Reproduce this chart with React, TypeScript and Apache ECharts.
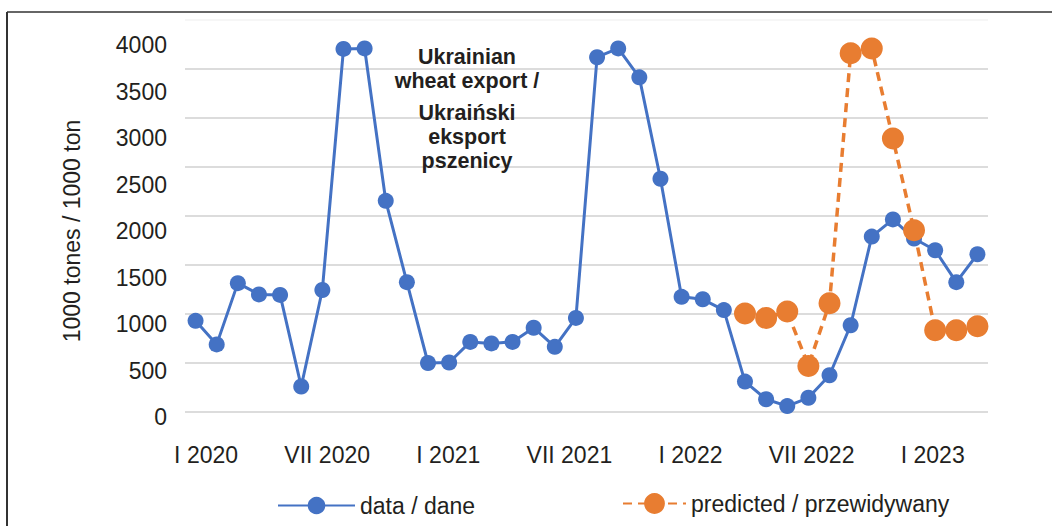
import React, { useEffect, useRef } from "react";
import * as echarts from "echarts";

const romanMonths = ["I", "II", "III", "IV", "V", "VI", "VII", "VIII", "IX", "X", "XI", "XII"];
const years = [2020, 2021, 2022, 2023];
const monthCount = 38;
const categories: string[] = [];
for (const y of years) {
  for (const m of romanMonths) {
    if (categories.length < monthCount) categories.push(`${m} ${y}`);
  }
}

const dataValues = [
  930, 690, 1315, 1200, 1195, 260, 1245, 3705, 3710, 2155, 1325, 500,
  505, 715, 700, 715, 860, 665, 960, 3620, 3710, 3415, 2380, 1175,
  1150, 1040, 310, 130, 60, 145, 375, 885, 1790, 1965, 1770, 1650,
  1325, 1610,
];

const predictedValues: (number | null)[] = [
  null, null, null, null, null, null, null, null, null, null, null, null,
  null, null, null, null, null, null, null, null, null, null, null, null,
  null, null, 1005, 960, 1025, 470, 1110, 3660, 3710, 2790, 1855, 835,
  835, 875,
];

const seriesNames = ["data / dane", "predicted / przewidywany"];
const yAxisName = "1000 tones / 1000 ton";
const titleEn = "Ukrainian\nwheat export /";
const titlePl = "Ukraiński\neksport\npszenicy";

const FONT = "'Liberation Sans', Arial, Helvetica, sans-serif";
const TEXT = "#231f20";
const BLUE = "#4472C4";
const ORANGE = "#E87D31";
const GRID = "#dcdcdc";

export default function App() {
  const ref = useRef<HTMLDivElement>(null);
  useEffect(() => {
    if (!ref.current) return;
    const chart = echarts.init(ref.current, undefined, { renderer: "svg" });
    chart.setOption({
      animation: false,
      backgroundColor: "#ffffff",
      textStyle: { fontFamily: FONT },
      grid: [
        { left: 185, right: 64, top: 20, bottom: 114 },
        { left: 196, right: 89, top: 45, bottom: 109 },
      ],
      xAxis: [
        {
          gridIndex: 0,
          type: "category",
          data: categories,
          boundaryGap: true,
          axisLine: { show: false },
          axisTick: { show: false },
          axisLabel: { show: false },
          splitLine: { show: false },
        },
        {
          gridIndex: 1,
          type: "category",
          data: categories,
          boundaryGap: true,
          axisLine: { show: false },
          axisTick: { show: false },
          axisLabel: {
            interval: 5,
            fontSize: 23,
            color: TEXT,
            margin: 26,
            fontFamily: FONT,
          },
          splitLine: { show: false },
        },
      ],
      yAxis: [
        {
          gridIndex: 0,
          type: "value",
          min: 0,
          max: 4000,
          interval: 500,
          axisLine: { show: false },
          axisTick: { show: false },
          axisLabel: { show: false },
          splitLine: {
            show: true,
            lineStyle: {
              color: [GRID, GRID, GRID, GRID, GRID, GRID, GRID, GRID, "#f6f6f6"],
              width: 2,
            },
          },
        },
        {
          gridIndex: 1,
          type: "value",
          min: 0,
          max: 4000,
          interval: 500,
          axisLine: { show: false },
          axisTick: { show: false },
          splitLine: { show: false },
          axisLabel: {
            fontSize: 23,
            color: TEXT,
            margin: 29,
            fontFamily: FONT,
            formatter: (v: number) => String(v),
          },
          name: yAxisName,
          nameLocation: "middle",
          nameRotate: 90,
          nameGap: 113,
          nameTextStyle: { fontSize: 23, color: TEXT, fontFamily: FONT },
        },
      ],
      legend: [
        {
          data: [seriesNames[0]],
          left: 272,
          top: 489,
          itemWidth: 77,
          itemHeight: 22,
          textStyle: { fontSize: 23, color: TEXT, fontFamily: FONT },
        },
        {
          data: [seriesNames[1]],
          left: 617,
          top: 487,
          itemWidth: 63,
          itemHeight: 26,
          textStyle: { fontSize: 23, color: TEXT, fontFamily: FONT },
        },
      ],
      graphic: [
        {
          type: "line",
          shape: { x1: 7, y1: 12, x2: 1052, y2: 12 },
          style: { stroke: "#666666", lineWidth: 2 },
        },
        {
          type: "line",
          shape: { x1: 7, y1: 12, x2: 7, y2: 526 },
          style: { stroke: "#333333", lineWidth: 2 },
        },
        {
          type: "text",
          x: 467,
          y: 69,
          z: 10,
          style: {
            text: titleEn,
            font: `bold 21.5px ${FONT}`,
            fill: TEXT,
            textAlign: "center",
            textVerticalAlign: "middle",
            lineHeight: 24,
          },
        },
        {
          type: "text",
          x: 467,
          y: 136.5,
          z: 10,
          style: {
            text: titlePl,
            font: `bold 21.5px ${FONT}`,
            fill: TEXT,
            textAlign: "center",
            textVerticalAlign: "middle",
            lineHeight: 24,
          },
        },
      ],
      series: [
        {
          name: seriesNames[0],
          type: "line",
          xAxisIndex: 0,
          yAxisIndex: 0,
          data: dataValues,
          symbol: "circle",
          symbolSize: 16,
          showAllSymbol: true,
          itemStyle: { color: BLUE },
          lineStyle: { color: BLUE, width: 3 },
        },
        {
          name: seriesNames[1],
          type: "line",
          xAxisIndex: 0,
          yAxisIndex: 0,
          data: predictedValues,
          symbol: "circle",
          symbolSize: 22,
          showAllSymbol: true,
          itemStyle: { color: ORANGE },
          lineStyle: { color: ORANGE, width: 3.5, type: [9, 6] },
        },
      ],
    });
    return () => chart.dispose();
  }, []);
  return (
    <div
      ref={ref}
      style={{ position: "absolute", left: 0, top: 0, width: 1052, height: 526 }}
    />
  );
}
